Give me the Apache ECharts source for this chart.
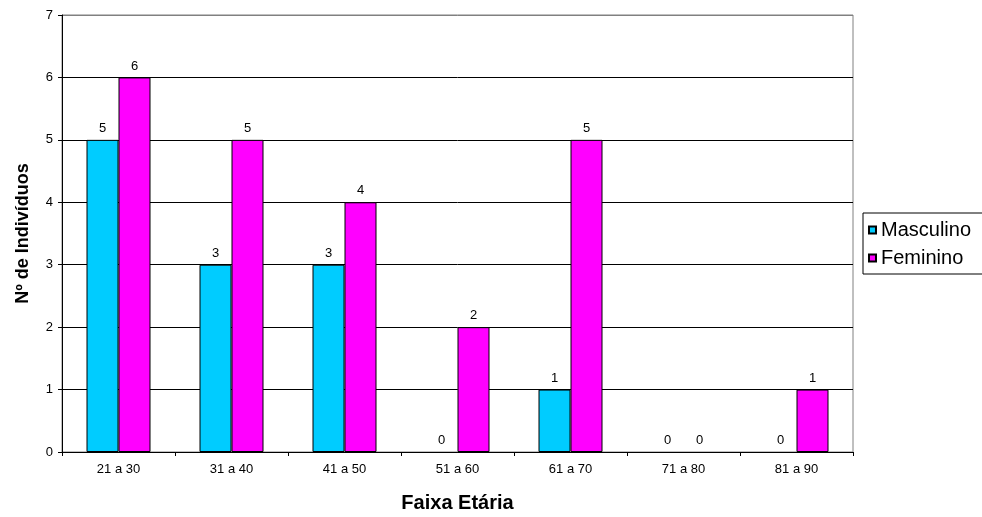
<!DOCTYPE html>
<html>
<head>
<meta charset="utf-8">
<script src="https://cdn.jsdelivr.net/npm/echarts@6/dist/echarts.min.js"></script>
<style>
  html, body { margin: 0; padding: 0; background: #fff; }
  #chart { width: 982px; height: 517px; }
</style>
</head>
<body>
<div id="chart"></div>
<script>
// Age groups and counts per sex
const faixas = ['21 a 30', '31 a 40', '41 a 50', '51 a 60', '61 a 70', '71 a 80', '81 a 90'];
const masculino = [5, 3, 3, 0, 1, 0, 0];
const feminino = [6, 5, 4, 2, 5, 0, 1];
const yTicks = [0, 1, 2, 3, 4, 5, 6, 7];

const FONT = '"Liberation Sans", Arial, sans-serif';

const chart = echarts.init(document.getElementById('chart'));

const labelStyle = {
  show: true,
  position: 'top',
  distance: 5,
  color: '#000',
  fontFamily: FONT,
  fontSize: 13
};

// zero-height bars get no outline so only their value label remains
function barData(values) {
  return values.map(v => (v === 0 ? { value: v, itemStyle: { borderWidth: 0 } } : v));
}

chart.setOption({
  animation: false,
  backgroundColor: '#fff',
  textStyle: { fontFamily: FONT },
  grid: {
    left: 62, right: 129, top: 15, bottom: 65,
    outerBoundsMode: 'none',
    containLabel: false,
    show: true,
    borderColor: '#808080',
    borderWidth: 1,
    backgroundColor: '#fff'
  },
  legend: {
    orient: 'vertical',
    left: 863,
    top: 213,
    itemWidth: 7,
    itemHeight: 7,
    itemGap: 8,
    icon: 'rect',
    padding: [7, 30, 6, 5],
    borderColor: '#000',
    borderWidth: 1,
    textStyle: { fontFamily: FONT, fontSize: 20, color: '#000', lineHeight: 20 },
    data: ['Masculino', 'Feminino']
  },
  xAxis: {
    type: 'category',
    data: faixas,
    name: 'Faixa Etária',
    nameLocation: 'middle',
    nameGap: 41,
    nameTextStyle: { fontFamily: FONT, fontSize: 20, fontWeight: 'bold', color: '#000' },
    axisLine: { lineStyle: { color: '#000', width: 1 } },
    axisTick: { show: true, length: 4, lineStyle: { color: '#000' } },
    axisLabel: { color: '#000', fontFamily: FONT, fontSize: 13, margin: 11 }
  },
  yAxis: {
    type: 'value',
    min: yTicks[0],
    max: yTicks[yTicks.length - 1],
    interval: 1,
    name: 'Nº de Indivíduos',
    nameLocation: 'middle',
    nameGap: 30,
    nameRotate: 90,
    nameTextStyle: { fontFamily: FONT, fontSize: 18, fontWeight: 'bold', color: '#000' },
    axisLine: { show: true, lineStyle: { color: '#000', width: 1 } },
    axisTick: { show: true, length: 4, lineStyle: { color: '#000' } },
    axisLabel: { color: '#000', fontFamily: FONT, fontSize: 13, margin: 9 },
    splitLine: {
      show: true,
      lineStyle: {
        color: ['#000', '#000', '#000', '#000', '#000', '#000', '#000', '#808080'],
        width: 1
      }
    }
  },
  series: [
    {
      name: 'Masculino',
      type: 'bar',
      data: barData(masculino),
      barWidth: 32,
      barGap: '0%',
      itemStyle: { color: '#00CCFF', borderColor: '#000', borderWidth: 1 },
      label: labelStyle
    },
    {
      name: 'Feminino',
      type: 'bar',
      data: barData(feminino),
      barWidth: 32,
      barGap: '0%',
      itemStyle: { color: '#FF00FF', borderColor: '#000', borderWidth: 1 },
      label: labelStyle
    }
  ]
});
</script>
</body>
</html>
